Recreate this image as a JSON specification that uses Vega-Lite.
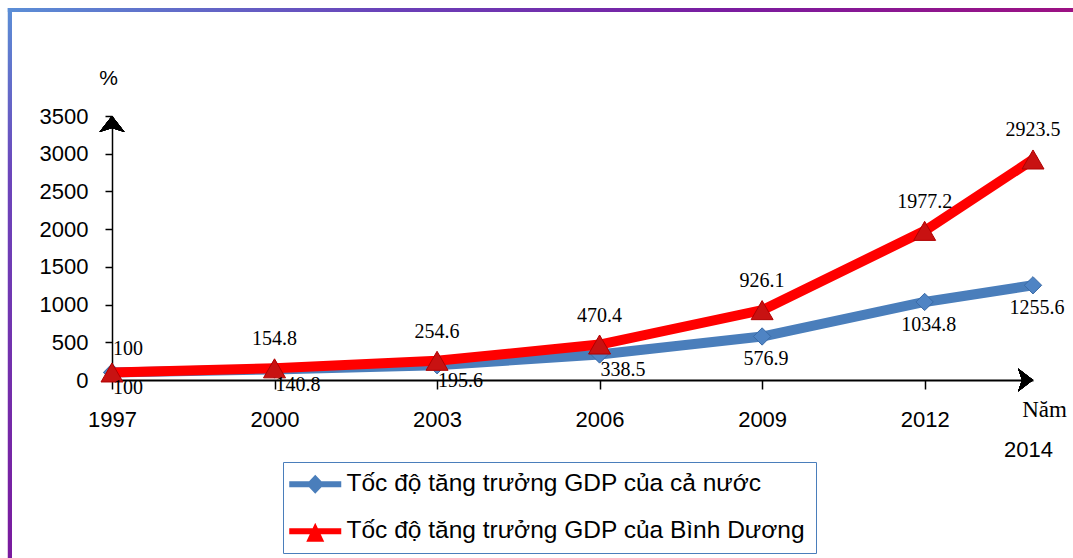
{
  "$schema": "https://vega.github.io/schema/vega-lite/v6.json",
  "width": 921,
  "height": 264,
  "autosize": {"type": "none"},
  "padding": {"left": 112, "top": 116, "right": 40, "bottom": 178},
  "background": "white",
  "config": {"view": {"stroke": null}},
  "data": {
    "values": [
      {"year": 1997, "series": "Tốc độ tăng trưởng GDP của cả nước", "value": 100},
      {"year": 2000, "series": "Tốc độ tăng trưởng GDP của cả nước", "value": 140.8},
      {"year": 2003, "series": "Tốc độ tăng trưởng GDP của cả nước", "value": 195.6},
      {"year": 2006, "series": "Tốc độ tăng trưởng GDP của cả nước", "value": 338.5},
      {"year": 2009, "series": "Tốc độ tăng trưởng GDP của cả nước", "value": 576.9},
      {"year": 2012, "series": "Tốc độ tăng trưởng GDP của cả nước", "value": 1034.8},
      {"year": 2014, "series": "Tốc độ tăng trưởng GDP của cả nước", "value": 1255.6},
      {"year": 1997, "series": "Tốc độ tăng trưởng GDP của Bình Dương", "value": 100},
      {"year": 2000, "series": "Tốc độ tăng trưởng GDP của Bình Dương", "value": 154.8},
      {"year": 2003, "series": "Tốc độ tăng trưởng GDP của Bình Dương", "value": 254.6},
      {"year": 2006, "series": "Tốc độ tăng trưởng GDP của Bình Dương", "value": 470.4},
      {"year": 2009, "series": "Tốc độ tăng trưởng GDP của Bình Dương", "value": 926.1},
      {"year": 2012, "series": "Tốc độ tăng trưởng GDP của Bình Dương", "value": 1977.2},
      {"year": 2014, "series": "Tốc độ tăng trưởng GDP của Bình Dương", "value": 2923.5}
    ]
  },
  "encoding": {
    "x": {
      "field": "year",
      "type": "quantitative",
      "scale": {"domain": [1997, 2014], "nice": false, "zero": false},
      "axis": {
        "values": [1997, 2000, 2003, 2006, 2009, 2012, 2014],
        "format": "d",
        "title": "Năm",
        "titleFont": "Liberation Serif",
        "titleFontSize": 23,
        "titleFontWeight": "normal",
        "titleColor": "black",
        "titleX": 932,
        "titleY": 36,
        "titleAlign": "center",
        "titleBaseline": "alphabetic",
        "labelFont": "Liberation Sans",
        "labelFontSize": 22,
        "labelColor": "black",
        "labelPadding": {"condition": {"test": "datum.value == 2014", "value": 50}, "value": 20},
        "labelOffset": {"condition": {"test": "datum.value == 2014", "value": -5}, "value": 0},
        "tickColor": {"condition": {"test": "datum.value == 2014", "value": "transparent"}, "value": "black"},
        "tickSize": 9,
        "tickWidth": 1.5,
        "domainColor": "black",
        "domainWidth": 2,
        "grid": false,
        "labelFlush": false,
        "labelOverlap": false,
        "labelBound": false
      }
    },
    "y": {
      "field": "value",
      "type": "quantitative",
      "scale": {"domain": [0, 3500], "nice": false},
      "axis": {
        "values": [0, 500, 1000, 1500, 2000, 2500, 3000, 3500],
        "format": "d",
        "title": "%",
        "titleAngle": 0,
        "titleX": -4,
        "titleY": -38,
        "titleAlign": "center",
        "titleBaseline": "middle",
        "titleFont": "Liberation Sans",
        "titleFontSize": 21,
        "titleFontWeight": "normal",
        "titleColor": "black",
        "labelFont": "Liberation Sans",
        "labelFontSize": 22,
        "labelColor": "black",
        "labelPadding": 17,
        "tickSize": 7,
        "tickColor": "black",
        "tickWidth": 1.5,
        "domainColor": "black",
        "domainWidth": 1.5,
        "grid": false,
        "labelFlush": false,
        "labelOverlap": false
      }
    }
  },
  "layer": [
    {
      "mark": {
        "type": "rect",
        "fill": {"gradient": "linear", "x1": 0, "y1": 0, "x2": 0, "y2": 1,
          "stops": [{"offset": 0, "color": "#5b8ed6"}, {"offset": 0.3, "color": "#6c46bb"}, {"offset": 1, "color": "#7a1a9e"}]}
      },
      "encoding": {
        "x": {"datum": 1995.08},
        "x2": {"datum": 1995.154},
        "y": {"datum": 4932},
        "y2": {"datum": -2400}
      }
    },
    {
      "mark": {
        "type": "rect",
        "fill": {"gradient": "linear", "x1": 0, "y1": 0, "x2": 1, "y2": 0,
          "stops": [{"offset": 0, "color": "#5b8ed6"}, {"offset": 0.35, "color": "#6a40b8"}, {"offset": 0.65, "color": "#7a1ca0"}, {"offset": 1, "color": "#a0107f"}]}
      },
      "encoding": {
        "x": {"datum": 1995.08},
        "x2": {"datum": 2015.5},
        "y": {"datum": 4932},
        "y2": {"datum": 4879}
      }
    },
    {
      "transform": [{"filter": "false"}],
      "mark": {"type": "point", "filled": true, "opacity": 1},
      "encoding": {
        "color": {
          "field": "series",
          "type": "nominal",
          "scale": {"domain": ["Tốc độ tăng trưởng GDP của cả nước", "Tốc độ tăng trưởng GDP của Bình Dương"], "range": ["#4a7ebb", "#ff0000"]},
          "legend": {
            "orient": "none", "legendX": 171, "legendY": 346, "title": null, "direction": "vertical",
            "padding": 10, "strokeColor": "#4a7ebb", "fillColor": "white",
            "labelFont": "Liberation Sans", "labelFontSize": 24.5, "labelColor": "black", "labelLimit": 1000,
            "symbolSize": 576, "symbolStrokeWidth": 0, "symbolOpacity": 1, "rowPadding": 22, "labelOffset": 29
          }
        },
        "shape": {
          "field": "series",
          "type": "nominal",
          "scale": {
            "domain": ["Tốc độ tăng trưởng GDP của cả nước", "Tốc độ tăng trưởng GDP của Bình Dương"],
            "range": [
              "M-1.333,-0.25 L3,-0.25 L3,0.25 L-1.333,0.25 Z M0.083,0 L0.833,-0.79 L1.583,0 L0.833,0.79 Z",
              "M-1.333,-0.25 L3,-0.25 L3,0.25 L-1.333,0.25 Z M0.833,-0.708 L1.583,0.875 L0.083,0.875 Z"
            ]
          },
          "legend": {
            "orient": "none", "legendX": 171, "legendY": 346, "title": null, "direction": "vertical",
            "padding": 10, "strokeColor": "#4a7ebb", "fillColor": "white",
            "labelFont": "Liberation Sans", "labelFontSize": 24.5, "labelColor": "black", "labelLimit": 1000,
            "symbolSize": 576, "symbolStrokeWidth": 0, "symbolOpacity": 1, "rowPadding": 22, "labelOffset": 29
          }
        }
      }
    },
    {
      "transform": [{"filter": {"field": "series", "equal": "Tốc độ tăng trưởng GDP của cả nước"}}],
      "mark": {"type": "line", "stroke": "#4a7ebb", "strokeWidth": 10, "strokeCap": "round", "strokeJoin": "round"},
      "encoding": {}
    },
    {
      "transform": [{"filter": {"field": "series", "equal": "Tốc độ tăng trưởng GDP của cả nước"}}],
      "mark": {"type": "point", "shape": "diamond", "size": 300, "filled": true, "fill": "#4f84c4", "stroke": "#3a6aa6", "strokeWidth": 1, "opacity": 1},
      "encoding": {}
    },
    {
      "transform": [{"filter": {"field": "series", "equal": "Tốc độ tăng trưởng GDP của Bình Dương"}}],
      "mark": {"type": "line", "stroke": "#ff0000", "strokeWidth": 10, "strokeCap": "round", "strokeJoin": "round"},
      "encoding": {}
    },
    {
      "transform": [{"filter": {"field": "series", "equal": "Tốc độ tăng trưởng GDP của Bình Dương"}}],
      "mark": {"type": "point", "shape": "triangle-up", "size": 484, "filled": true, "fill": "#c81212", "stroke": "#b00000", "strokeWidth": 1, "opacity": 1},
      "encoding": {}
    },
    {
      "transform": [{"filter": "datum.series == 'Tốc độ tăng trưởng GDP của Bình Dương' && datum.year > 1997"}],
      "mark": {"type": "text", "font": "Liberation Serif", "fontSize": 20, "color": "black", "align": "center", "baseline": "middle", "dy": -29},
      "encoding": {"text": {"field": "value", "type": "quantitative", "format": ".1~f"}}
    },
    {
      "transform": [{"filter": "datum.series == 'Tốc độ tăng trưởng GDP của Bình Dương' && datum.year == 1997"}],
      "mark": {"type": "text", "font": "Liberation Serif", "fontSize": 20, "color": "black", "align": "left", "baseline": "middle", "dx": 1, "dy": -23},
      "encoding": {"text": {"field": "value", "type": "quantitative", "format": ".1~f"}}
    },
    {
      "transform": [{"filter": "datum.series == 'Tốc độ tăng trưởng GDP của cả nước' && datum.year <= 2006"}],
      "mark": {"type": "text", "font": "Liberation Serif", "fontSize": 20, "color": "black", "align": "left", "baseline": "middle", "dx": 1, "dy": 16},
      "encoding": {"text": {"field": "value", "type": "quantitative", "format": ".1~f"}}
    },
    {
      "transform": [{"filter": "datum.series == 'Tốc độ tăng trưởng GDP của cả nước' && datum.year > 2006"}],
      "mark": {"type": "text", "font": "Liberation Serif", "fontSize": 20, "color": "black", "align": "center", "baseline": "middle", "dx": 4, "dy": 23},
      "encoding": {"text": {"field": "value", "type": "quantitative", "format": ".1~f"}}
    },
    {
      "mark": {"type": "point", "shape": "M0,0 L1,1.28 L0,0.95 L-1,1.28 Z", "size": 625, "filled": true, "fill": "black", "strokeWidth": 0, "opacity": 1},
      "encoding": {"x": {"datum": 1997}, "y": {"datum": 3500}}
    },
    {
      "mark": {"type": "point", "shape": "M0,0 L-1.3,-1 L-0.95,0 L-1.3,1 Z", "size": 529, "filled": true, "fill": "black", "strokeWidth": 0, "opacity": 1},
      "encoding": {"x": {"datum": 2014}, "y": {"datum": 0}}
    }
  ]
}
